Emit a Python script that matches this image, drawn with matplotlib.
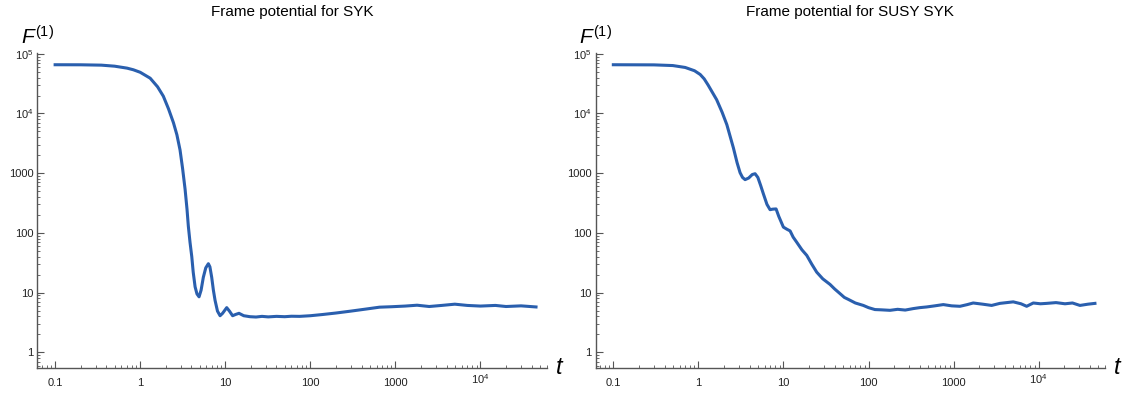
import matplotlib
matplotlib.use("Agg")
import matplotlib.pyplot as plt
import matplotlib.transforms as mtransforms
from matplotlib.ticker import LogLocator, FixedLocator, FixedFormatter, NullFormatter

plt.rcParams['font.family'] = 'Liberation Sans'
plt.rcParams['mathtext.fontset'] = 'custom'
plt.rcParams['mathtext.rm'] = 'Liberation Sans'
plt.rcParams['mathtext.it'] = 'Liberation Sans:italic'

# frame potential vs time, SYK
syk_t = [0.1, 0.2, 0.35, 0.5, 0.7, 0.83, 1.0, 1.31, 1.6, 1.87, 2.15, 2.46, 2.7, 2.94,
         3.15, 3.37, 3.55, 3.68, 3.85, 4.04, 4.2, 4.42, 4.65, 4.92, 5.2, 5.52, 5.9,
         6.33, 6.6, 6.93, 7.25, 7.59, 8.1, 8.69, 9.3, 10.4, 11.2, 12.2, 13.2, 14.5,
         16.5, 19.5, 23, 27, 32, 40, 50, 60, 75, 100, 140, 200, 300, 450, 650, 900,
         1300, 1800, 2500, 3500, 5000, 7000, 10000, 15000, 20000, 30000, 45000]
syk_F = [65536, 65400, 64500, 62000, 57500, 54000, 49000, 39000, 28000, 19500, 12000,
         7000, 4400, 2450, 1200, 540, 250, 130, 70, 40, 22, 12.5, 9.5, 8.5, 11, 18, 26,
         30.5, 27, 18, 11, 7.4, 4.9, 4.1, 4.5, 5.6, 4.9, 4.1, 4.3, 4.5,
         4.1, 3.95, 3.9, 4.0, 3.92, 4.0, 3.95, 4.02, 4.0, 4.1, 4.3, 4.55, 4.9, 5.3, 5.7, 5.8,
         5.95, 6.15, 5.85, 6.1, 6.4, 6.1, 5.95, 6.1, 5.85, 6.0, 5.75]

# frame potential vs time, SUSY SYK
susy_t = [0.1, 0.3, 0.5, 0.7, 0.9, 1.05, 1.17, 1.3, 1.64, 1.9, 2.16, 2.58, 2.85, 3.09,
          3.3, 3.54, 3.9, 4.3, 4.64, 5.0, 5.4, 5.81, 6.4, 6.96, 7.5, 8.19, 8.8, 9.98,
          11.0, 11.97, 13.0, 14.3, 16.5, 18.8, 21.5, 24.6, 29, 35.3, 40, 46.3, 52, 57.9,
          70, 86.9, 100, 119, 140, 179, 220, 270, 336, 400, 483, 600, 757, 950, 1190,
          1450, 1700, 2200, 2800, 3500, 5030, 6200, 7230, 8650, 10500, 12400, 16000,
          20400, 25000, 30600, 38000, 45900]
susy_F = [65536, 65200, 63500, 59000, 52000, 45000, 38000, 30000, 17000, 10500, 6500,
          2650, 1500, 1020, 850, 780, 830, 950, 980, 850, 620, 450, 300, 245, 250, 252,
          190, 125, 115, 108, 85, 70, 52, 42, 30, 22, 17, 13.7, 11.5, 9.6, 8.3, 7.7,
          6.7, 6.1, 5.6, 5.2, 5.15, 5.05, 5.25, 5.1, 5.4, 5.6, 5.75, 6.0, 6.3, 6.0, 5.9,
          6.3, 6.7, 6.4, 6.1, 6.6, 7.0, 6.5, 5.9, 6.7, 6.5, 6.6, 6.8,
          6.5, 6.7, 6.1, 6.4, 6.6]

titles = ["Frame potential for SYK", "Frame potential for SUSY SYK"]

x_major = [0.1, 1, 10, 100, 1000, 1e4]
x_labels = ["0.1", "1", "10", "100", "1000", r"$10^4$"]
y_major = [1, 10, 100, 1000, 1e4, 1e5]
y_labels = ["1", "10", "100", "1000", r"$10^4$", r"$10^5$"]

line_color = "#2a5fae"
axis_color = "#555555"

fig = plt.figure(figsize=(11.22, 3.93), dpi=100)
ax1 = fig.add_axes([0.0334, 0.0636, 0.4538, 0.8015])
ax2 = fig.add_axes([0.5309, 0.0636, 0.4538, 0.8015])


def style_axes(ax, title):
    ax.set_xscale("log")
    ax.set_yscale("log")
    ax.set_xlim(0.062, 6.0e4)
    ax.set_ylim(0.546, 1.03e5)
    for side in ["top", "right"]:
        ax.spines[side].set_visible(False)
    for side in ["left", "bottom"]:
        ax.spines[side].set_color(axis_color)
        ax.spines[side].set_linewidth(1.0)
    ax.xaxis.set_major_locator(FixedLocator(x_major))
    ax.xaxis.set_major_formatter(FixedFormatter(x_labels))
    ax.yaxis.set_major_locator(FixedLocator(y_major))
    ax.yaxis.set_major_formatter(FixedFormatter(y_labels))
    ax.xaxis.set_minor_locator(LogLocator(base=10, subs=range(2, 10), numticks=20))
    ax.yaxis.set_minor_locator(LogLocator(base=10, subs=range(2, 10), numticks=20))
    ax.xaxis.set_minor_formatter(NullFormatter())
    ax.yaxis.set_minor_formatter(NullFormatter())
    ax.tick_params(which="major", direction="in", length=5, width=0.8,
                   color=axis_color, labelsize=8, labelcolor="#222222")
    ax.tick_params(which="minor", direction="in", length=2.5, width=0.6,
                   color=axis_color)
    ax.tick_params(axis="x", pad=7)
    ax.tick_params(axis="y", pad=3)
    ax.text(0.5, 1.13, title, transform=ax.transAxes, ha="center", va="center",
            fontsize=11)
    ax.text(0.0, 1.05, r"$F^{(1)}$", transform=ax.transAxes, ha="center",
            va="center", fontsize=15)
    ax.text(1.025, 0.0, r"$t$", transform=ax.transAxes, ha="center",
            va="center", fontsize=17)


ax1.plot(syk_t, syk_F, color=line_color, lw=2.2, solid_joinstyle="round")
ax2.plot(susy_t, susy_F, color=line_color, lw=2.2, solid_joinstyle="round")
style_axes(ax1, titles[0])
style_axes(ax2, titles[1])

# the superscripted label sits a bit higher than the plain ones
fig.canvas.draw()
lift = mtransforms.ScaledTranslation(0, 4 / 72, fig.dpi_scale_trans)
for ax in (ax1, ax2):
    for lab in ax.get_xticklabels():
        if lab.get_text() == r"$10^4$":
            lab.set_transform(lab.get_transform() + lift)

fig.savefig("out.png", dpi=100)
